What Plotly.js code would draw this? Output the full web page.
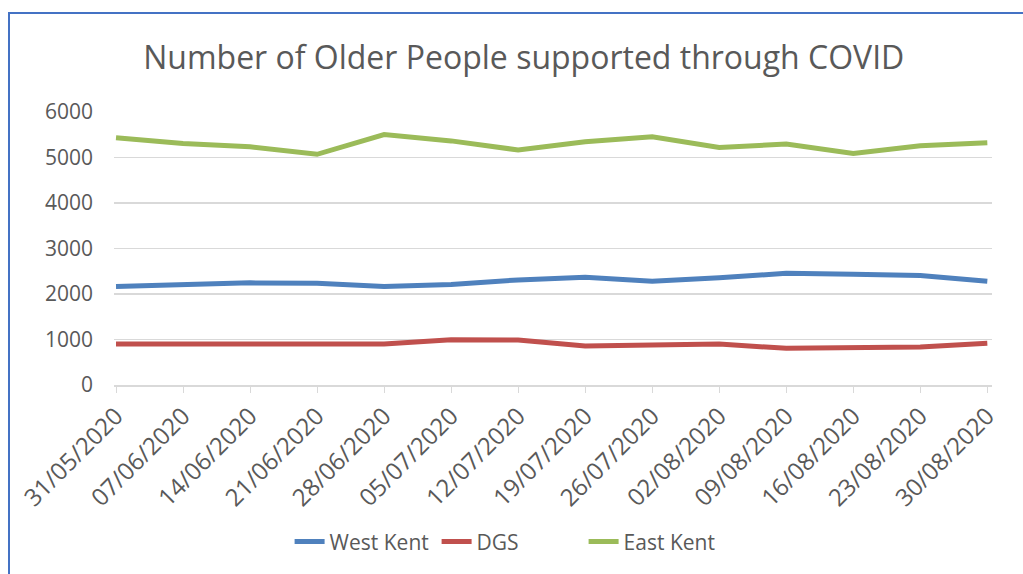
<!DOCTYPE html>
<html>
<head>
<meta charset="utf-8">
<script src="https://cdn.plot.ly/plotly-3.0.1.min.js"></script>
<style>
html,body{margin:0;padding:0;background:#fff;}
#wrap{position:relative;width:1023px;height:574px;overflow:hidden;}
#chart{position:absolute;left:0;top:0;width:1023px;height:574px;}
#frame{position:absolute;left:8px;top:12px;width:1100px;height:700px;border-left:2px solid #4472C4;border-top:2px solid #4472C4;pointer-events:none;}
</style>
</head>
<body>
<div id="wrap"><div id="chart"></div><div id="frame"></div></div>
<script>
const dates = ["31/05/2020","07/06/2020","14/06/2020","21/06/2020","28/06/2020","05/07/2020","12/07/2020","19/07/2020","26/07/2020","02/08/2020","09/08/2020","16/08/2020","23/08/2020","30/08/2020"];
const westKent = [2165,2200,2245,2235,2165,2210,2310,2370,2280,2355,2455,2435,2405,2280];
const dgs = [900,900,902,900,900,995,990,857,870,900,806,828,835,915];
const eastKent = [5435,5310,5235,5070,5505,5365,5165,5345,5455,5220,5295,5090,5260,5325];

const font = "'Open Sans', sans-serif";
const grey = "#595959";
const idx = dates.map((d,i)=>i);

const traces = [
  {x: idx, y: westKent, name: "West Kent", mode: "lines", line: {color: "#4F81BD", width: 5}},
  {x: idx, y: dgs, name: "DGS", mode: "lines", line: {color: "#C0504D", width: 5}},
  {x: idx, y: eastKent, name: "East Kent", mode: "lines", line: {color: "#9BBB59", width: 5}}
];

const layout = {
  width: 1023, height: 574,
  paper_bgcolor: "#fff", plot_bgcolor: "#fff",
  margin: {l: 114, r: 31, t: 112, b: 187},
  font: {family: font, color: grey},
  title: {text: "Number of Older People supported through COVID", font: {family: font, size: 32, color: grey}, x: 0.512, xanchor: "center", y: 0.9, yanchor: "middle"},
  xaxis: {
    range: [-0.03, 13.07], tickmode: "array", tickvals: idx, ticktext: dates,
    tickangle: -45, tickfont: {size: 24, color: grey},
    showgrid: false, zeroline: false, showline: true, linecolor: "#D9D9D9", linewidth: 1.5,
    ticks: "outside", ticklen: 6, tickcolor: "#D9D9D9", fixedrange: true
  },
  yaxis: {
    range: [0, 6000], dtick: 1000, tickfont: {size: 21, color: grey},
    showgrid: true, gridcolor: "#D9D9D9", gridwidth: 1.5, zeroline: false, showline: false,
    ticks: "", ticklabelstandoff: 20, fixedrange: true
  },
  showlegend: true,
  legend: {orientation: "h", x: 0.2, xanchor: "left", y: -0.575, yanchor: "middle", font: {size: 21, color: grey}, itemwidth: 30, entrywidth: 102, entrywidthmode: "pixels", traceorder: "normal"}
};

Plotly.newPlot("chart", traces, layout, {displayModeBar: false, staticPlot: true});
</script>
</body>
</html>
